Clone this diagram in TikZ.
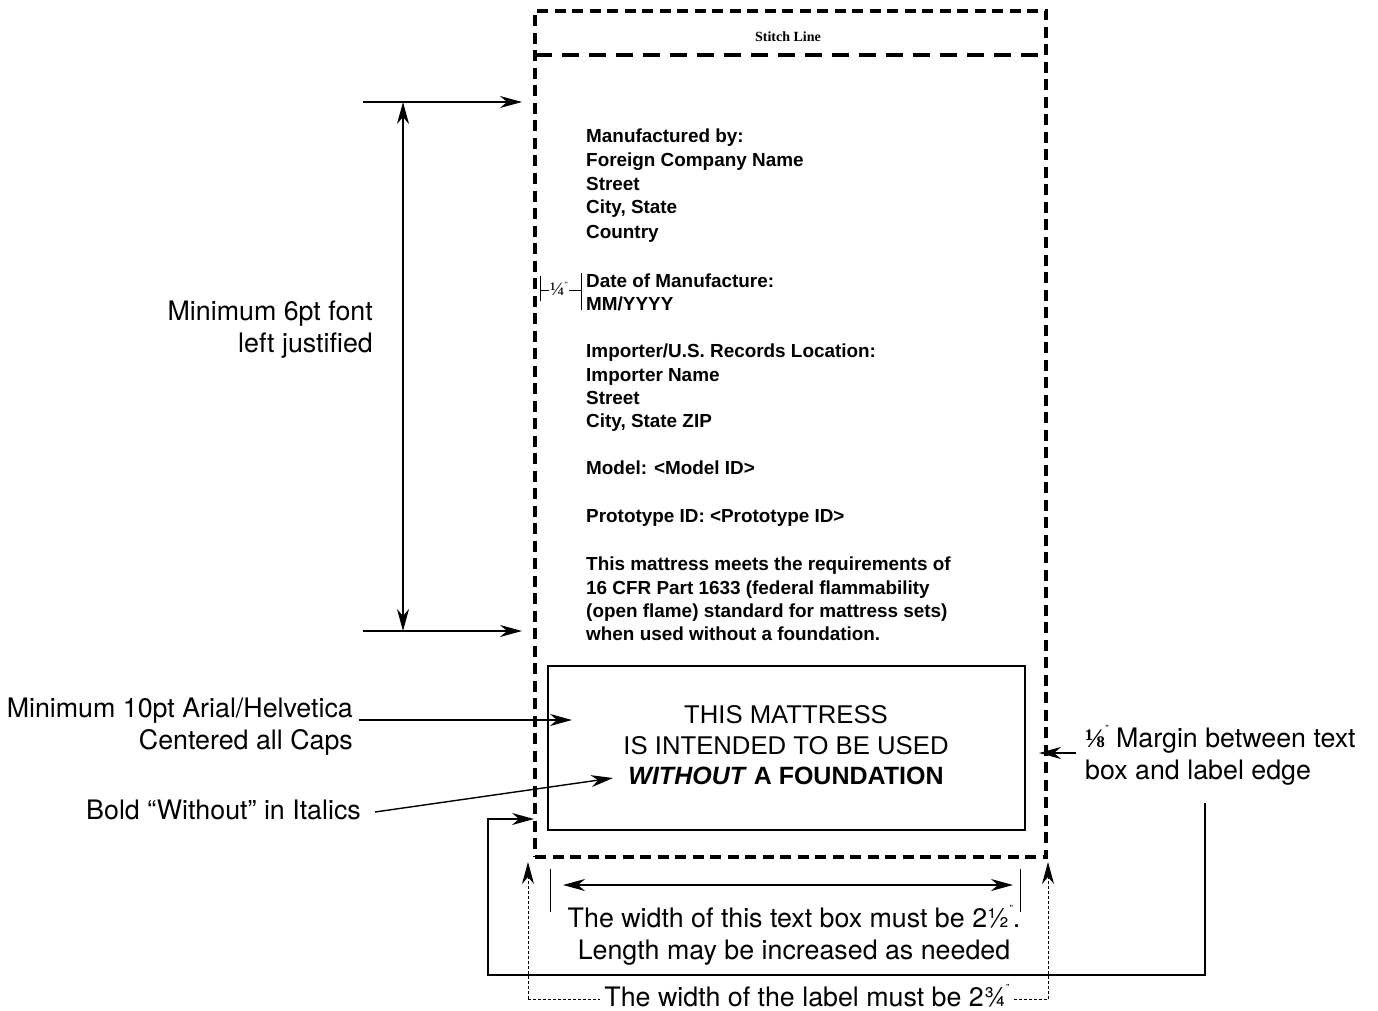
\documentclass[tikz,border=0pt]{standalone}
\usepackage{fontspec}
\setmainfont{TeX Gyre Heros}
\newfontfamily\labfont{Liberation Sans}
\newfontfamily\serfont{Liberation Serif}
\usetikzlibrary{arrows.meta}
\newcommand\inchmk{\raisebox{0.55em}{\fontsize{10}{10}\selectfont ”}}
\tikzset{
  ann/.style={font=\fontsize{26.8}{26.8}\selectfont, inner sep=0pt},
  labtxt/.style={font=\labfont\bfseries\fontsize{18.9}{18.9}\selectfont, inner sep=0pt, anchor=base west},
  boxtxt/.style={font=\labfont\fontsize{25.7}{25.7}\selectfont, inner sep=0pt, anchor=base},
  thin/.style={line width=1.4pt},
  tip/.style={-{Stealth[length=22pt,width=12pt,inset=7pt]}},
  dtip/.style={{Stealth[length=22pt,width=12pt,inset=7pt]}-{Stealth[length=22pt,width=12pt,inset=7pt]}},
  outer/.style={line width=4pt, dash pattern=on 11pt off 6.5pt},
  stitch/.style={line width=4pt, dash pattern=on 17pt off 10pt},
  dotl/.style={line width=1pt, dash pattern=on 3pt off 2pt},
}
\begin{document}
\begin{tikzpicture}[x=1pt,y=-1pt]
\useasboundingbox (0,0) rectangle (1378,1011);
% label outline
\node[draw, outer, minimum width=511pt, minimum height=846pt, inner sep=0pt] (label) at (790.5,434) {};
\coordinate (sl) at (535,55);
\coordinate (sr) at (1046,55);
\draw[stitch] (sl) -- (sr);
\node[font=\serfont\bfseries\fontsize{14}{14}\selectfont, inner sep=0pt, anchor=base] (stitchtxt) at (788,42) {Stitch Line};
% inner text box
\node[draw, line width=2pt, minimum width=477pt, minimum height=164pt, inner sep=0pt] (tbox) at (786.5,748) {};
\node[boxtxt] (b1) at (786,723) {THIS MATTRESS};
\node[boxtxt] (b2) at (786,754) {IS INTENDED TO BE USED};
\node[boxtxt, font=\labfont\bfseries\fontsize{25}{25}\selectfont] (b3) at (786,784) {\textit{WITHOUT} A FOUNDATION};
% label lines
\node[labtxt] (l1) at (586,143) {Manufactured by:};
\node[labtxt] (l2) at (586,167) {Foreign Company Name};
\node[labtxt] (l3) at (586,190) {Street};
\node[labtxt] (l4) at (586,214) {City, State};
\node[labtxt] (l5) at (586,238) {Country};
\node[labtxt] (l6) at (586,287) {Date of Manufacture:};
\node[labtxt] (l7) at (586,310) {MM/YYYY};
\node[labtxt] (l8) at (586,357) {Importer/U.S. Records Location:};
\node[labtxt] (l9) at (586,381) {Importer Name};
\node[labtxt] (l10) at (586,404) {Street};
\node[labtxt] (l11) at (586,427) {City, State ZIP};
\node[labtxt] (l12) at (586,474) {Model: <Model ID>};
\node[labtxt] (l13) at (586,522) {Prototype ID: <Prototype ID>};
\node[labtxt] (l14) at (586,570) {This mattress meets the requirements of};
\node[labtxt] (l15) at (586,594) {16 CFR Part 1633 (federal flammability};
\node[labtxt] (l16) at (586,617) {(open flame) standard for mattress sets)};
\node[labtxt] (l17) at (586,640) {when used without a foundation.};
% 1/4 inch marker
\coordinate (qa) at (540,276); \coordinate (qb) at (540,301);
\coordinate (qc) at (581,273); \coordinate (qd) at (581,310);
\draw[line width=1pt] (qa) -- (qb);
\draw[line width=1pt] (qc) -- (qd);
\node[font=\serfont\fontsize{19}{19}\selectfont, inner sep=1pt] (quarter) at (559,289) {¼\raisebox{0.45em}{\fontsize{8}{8}\selectfont ”}};
\coordinate (qe) at (540,290); \coordinate (qf) at (581,290);
\draw[line width=1pt] (qe) -- (quarter.west |- qe);
\draw[line width=1pt] (quarter.east |- qf) -- (qf);
% left: 6pt font
\coordinate (h1s) at (363,102); \coordinate (h1e) at (522,102);
\coordinate (h2s) at (363,631); \coordinate (h2e) at (522,631);
\draw[thin, tip] (h1s) -- (h1e);
\draw[thin, tip] (h2s) -- (h2e);
\coordinate (v1) at (403,102); \coordinate (v2) at (403,631);
\draw[thin, dtip] (v1) -- (v2);
\node[ann, anchor=base east] (m6a) at (373,320) {Minimum 6pt font};
\node[ann, anchor=base east] (m6b) at (373,352) {left justified};
% 10pt
\node[ann, anchor=base east] (m10a) at (353,717) {Minimum 10pt Arial/Helvetica};
\node[ann, anchor=base east] (m10b) at (353,749) {Centered all Caps};
\coordinate (a10s) at (359,720); \coordinate (a10e) at (572,720);
\draw[thin, tip] (a10s) -- (a10e);
\node[ann, anchor=base east] (bw) at (361,819) {Bold “Without” in Italics};
\coordinate (bws) at (375,812); \coordinate (bwe) at (613,778);
\draw[thin, tip] (bws) -- (bwe);
% 1/8 margin
\node[ann, anchor=base west] (mg1) at (1085,747) {{\serfont\bfseries ⅛}\inchmk\ Margin between text};
\node[ann, anchor=base west] (mg2) at (1085,779) {box and label edge};
\coordinate (mgs) at (1076,753); \coordinate (mge) at (1039,753);
\draw[thin, tip] (mgs) -- (mge);
\coordinate (br1) at (1205,803); \coordinate (br2) at (1205,975);
\coordinate (br3) at (488,975); \coordinate (br4) at (488,819);
\coordinate (br5) at (534,819);
\draw[thin, tip] (br1) -- (br2) -- (br3) -- (br4) -- (br5);
% width of text box
\coordinate (tk1a) at (550,869); \coordinate (tk1b) at (550,912);
\coordinate (tk2a) at (1020,869); \coordinate (tk2b) at (1020,912);
\draw[line width=1pt] (tk1a) -- (tk1b);
\draw[line width=1pt] (tk2a) -- (tk2b);
\coordinate (wa) at (563,885); \coordinate (wb) at (1013,885);
\draw[thin, dtip] (wa) -- (wb);
\node[ann, anchor=base] (w1a) at (794,927) {The width of this text box must be 2½\inchmk.};
\node[ann, anchor=base] (w1b) at (794,959) {Length may be increased as needed};
% width of label
\node[ann, anchor=base, inner xsep=4pt] (w2) at (807,1006) {The width of the label must be 2¾\inchmk};
\coordinate (lt) at (528,862); \coordinate (rt) at (1048,862);
\coordinate (lb) at (528,999); \coordinate (rb) at (1048,999);
\draw[dotl] (lb) -- (w2.west |- lb);
\draw[dotl] (w2.east |- rb) -- (rb);
\draw[dotl, -{Stealth[length=22pt,width=12pt,inset=7pt]}] (lb) -- (lt);
\draw[dotl, -{Stealth[length=22pt,width=12pt,inset=7pt]}] (rb) -- (rt);
\end{tikzpicture}
\end{document}
